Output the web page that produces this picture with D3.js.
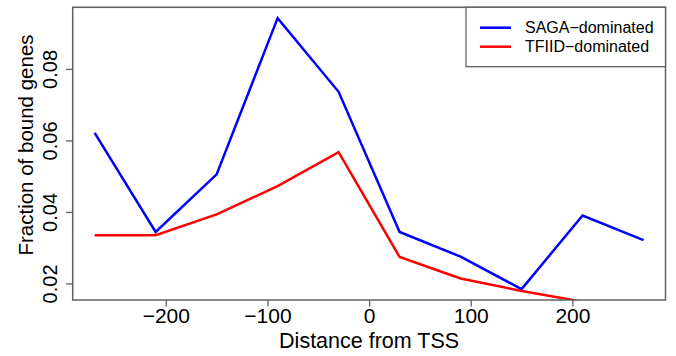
<!DOCTYPE html>
<html>
<head>
<meta charset="utf-8">
<script src="https://cdn.jsdelivr.net/npm/d3@7"></script>
<style>
  body { margin: 0; background: #fff; }
  svg { display: block; font-family: "Liberation Sans", Arial, sans-serif; }
</style>
</head>
<body>
<svg id="chart" width="676" height="356"></svg>
<script>
// data
var distances = [-270, -210, -150, -90, -30, 30, 90, 150, 210, 270];
var sagaValues = [0.0621, 0.0344, 0.0505, 0.0942, 0.0736, 0.0344, 0.0275, 0.0184, 0.0390, 0.0321];
// TFIID runs off the bottom of the plot after 150 (clipped like the original)
var tfiidDistances = [-270, -210, -150, -90, -30, 30, 90, 150, 210];
var tfiidValues = [0.0335, 0.0335, 0.0393, 0.0472, 0.0567, 0.0274, 0.0214, 0.0179, 0.0149];
var xTicks = [-200, -100, 0, 100, 200];
var yTicks = [0.02, 0.04, 0.06, 0.08];
var legendLabels = ['SAGA\u2212dominated', 'TFIID\u2212dominated'];
var seriesColors = ['#0000ff', '#ff0000'];

var plot = { left: 72.7, right: 665.5, top: 7.3, bottom: 300 };
var frameColor = '#606060';

var svg = d3.select('#chart');

// R-style 4% padding on both axes
var pad = function(ext) {
  var d = (ext[1] - ext[0]) * 0.04;
  return [ext[0] - d, ext[1] + d];
};

var x = d3.scaleLinear().domain(pad(d3.extent(distances))).range([plot.left, plot.right]);
var y = d3.scaleLinear().domain(pad(d3.extent(sagaValues))).range([plot.bottom, plot.top]);

svg.append('clipPath').attr('id', 'plot-clip')
  .append('rect')
  .attr('x', plot.left).attr('y', plot.top)
  .attr('width', plot.right - plot.left).attr('height', plot.bottom - plot.top);

var line = d3.line()
  .x(function(d) { return x(d[0]); })
  .y(function(d) { return y(d[1]); });

var series = [
  d3.zip(distances, sagaValues),
  d3.zip(tfiidDistances, tfiidValues)
];

svg.append('g').attr('clip-path', 'url(#plot-clip)')
  .selectAll('path')
  .data(series)
  .enter().append('path')
  .attr('d', line)
  .attr('fill', 'none')
  .attr('stroke', function(d, i) { return seriesColors[i]; })
  .attr('stroke-width', 2.5)
  .attr('stroke-linejoin', 'miter');

// x axis
var xAxis = svg.append('g')
  .attr('transform', 'translate(0,' + plot.bottom + ')')
  .call(d3.axisBottom(x).tickValues(xTicks).tickSize(6.5).tickFormat(d3.format('d')));
xAxis.select('.domain').remove();
xAxis.selectAll('.tick line').attr('stroke', frameColor).attr('stroke-width', 1.3);
xAxis.selectAll('.tick text')
  .attr('y', 23.3).attr('dy', null)
  .attr('fill', '#000')
  .style('font-size', '21px');

// y axis, labels rotated like R's default
var yAxis = svg.append('g')
  .attr('transform', 'translate(' + plot.left + ',0)')
  .call(d3.axisLeft(y).tickValues(yTicks).tickSize(6.7).tickFormat(d3.format('.2f')));
yAxis.select('.domain').remove();
yAxis.selectAll('.tick line').attr('stroke', frameColor).attr('stroke-width', 1.3);
yAxis.selectAll('.tick text')
  .attr('x', null).attr('dy', null)
  .attr('text-anchor', 'middle')
  .attr('transform', 'translate(-16,0) rotate(-90)')
  .attr('fill', '#000')
  .style('font-size', '20px');

// frame
svg.append('rect')
  .attr('x', plot.left).attr('y', plot.top)
  .attr('width', plot.right - plot.left).attr('height', plot.bottom - plot.top)
  .attr('fill', 'none')
  .attr('stroke', frameColor)
  .attr('stroke-width', 1.5);

// axis titles
svg.append('text')
  .attr('x', (plot.left + plot.right) / 2).attr('y', 348.3)
  .attr('text-anchor', 'middle')
  .style('font-size', '21.5px')
  .text('Distance from TSS');

svg.append('text')
  .attr('transform', 'translate(32.5,145) rotate(-90)')
  .attr('text-anchor', 'middle')
  .style('font-size', '20.5px')
  .text('Fraction of bound genes');

// legend (top right, flush with the frame)
var legend = svg.append('g');
legend.append('rect')
  .attr('x', 466).attr('y', plot.top)
  .attr('width', plot.right - 466).attr('height', 66.7 - plot.top)
  .attr('fill', '#fff')
  .attr('stroke', frameColor)
  .attr('stroke-width', 1.3);

var rows = legend.selectAll('g.row')
  .data(legendLabels)
  .enter().append('g')
  .attr('class', 'row')
  .attr('transform', function(d, i) { return 'translate(0,' + (27.7 + i * 19) + ')'; });

rows.append('line')
  .attr('x1', 480).attr('x2', 511)
  .attr('stroke', function(d, i) { return seriesColors[i]; })
  .attr('stroke-width', 2.5);

rows.append('text')
  .attr('x', 525).attr('y', 5.7)
  .style('font-size', '16px')
  .text(function(d) { return d; });
</script>
</body>
</html>
